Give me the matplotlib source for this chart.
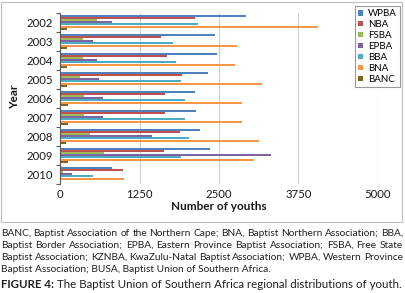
import numpy as np
import matplotlib
matplotlib.use("Agg")
import matplotlib.pyplot as plt
from matplotlib.patches import Rectangle, Patch

plt.rcParams['font.family'] = ['Lato', 'DejaVu Sans']

# data
years = ['2002', '2003', '2004', '2005', '2006', '2007', '2008', '2009', '2010']
series = ['WPBA', 'NBA', 'FSBA', 'EPBA', 'BBA', 'BNA', 'BANC']
colors = ['#4F81BD', '#C0504D', '#9BBB59', '#8064A2', '#4BACC6', '#F79646', '#7E6420']

wpba = [2920, 2432, 2474, 2321, 2127, 2137, 2195, 2358, 809]
nba = [2127, 1586, 1675, 1922, 1644, 1644, 1891, 1633, 987]
fsba = [572, 352, 352, 310, 378, 378, 473, 683, 47]
epba = [809, 515, 578, 615, 667, 667, 1444, 3319, 184]
bba = [2164, 1780, 1822, 1896, 1970, 1970, 2027, 1896, 520]
bna = [4065, 2778, 2752, 3172, 2868, 2868, 3125, 3046, 998]
banc = [100, 100, 100, 100, 121, 121, 84, 126, 0]

values = [wpba, nba, fsba, epba, bba, bna, banc]

note_lines = [
    "BANC, Baptist Association of the Northern Cape; BNA, Baptist Northern Association; BBA,",
    "Baptist Border Association; EPBA, Eastern Province Baptist Association; FSBA, Free State",
    "Baptist Association; KZNBA, KwaZulu-Natal Baptist Association; WPBA, Western Province",
    "Baptist Association; BUSA, Baptist Union of Southern Africa.",
]
fig_label = "FIGURE 4:"
fig_title = "The Baptist Union of Southern Africa regional distributions of youth."

W, H = 406, 293
fig = plt.figure(figsize=(W / 100, H / 100), dpi=100)

# chart frame
fig.patches.append(Rectangle((1 / W, 1 - 222 / H), 401 / W, 220.5 / H,
                             transform=fig.transFigure, fill=False,
                             edgecolor='#BFBFBF', linewidth=0.8))

ax = fig.add_axes([60.3 / W, 1 - 183.7 / H, 317.4 / W, 171 / H])

y = np.arange(len(years))
group = 0.8
bh = group / len(series)
for i, (name, vals) in enumerate(zip(series, values)):
    off = -group / 2 + bh * (i + 0.5)
    ax.barh(y + off, vals, height=bh * 0.95, color=colors[i], label=name,
            linewidth=0)

ax.set_xlim(0, 5000)
ax.set_xticks([0, 1250, 2500, 3750, 5000])
ax.set_ylim(len(years) - 0.5, -0.5)
ax.set_yticks(np.arange(len(years) + 1) - 0.5)
ax.set_yticklabels([])
ax.set_yticks(y, minor=True)
ax.set_yticklabels(years, minor=True)
ax.tick_params(axis='y', which='major', length=3, width=0.8, color='#595959')
ax.tick_params(axis='y', which='minor', length=0, pad=5, labelsize=8.2, labelcolor='#1a1a1a')
ax.tick_params(axis='x', length=0, pad=4, labelsize=8.2, labelcolor='#1a1a1a')
ax.grid(axis='x', color='#D0D0D0', linewidth=0.8)
ax.set_axisbelow(True)
for s in ['top', 'right', 'bottom']:
    ax.spines[s].set_visible(False)
ax.spines['left'].set_color('#595959')
ax.spines['left'].set_linewidth(0.8)

fig.text(219 / W, 1 - 207 / H, "Number of youths", ha='center', va='center',
         fontsize=8.5, fontweight='bold', color='#1a1a1a')
fig.text(15 / W, 1 - 97 / H, "Year", ha='center', va='center', rotation=90,
         fontsize=8.5, fontweight='bold', color='#1a1a1a')

handles = [Patch(facecolor=c, label=n) for n, c in zip(series, colors)]
leg = fig.legend(handles=handles, loc='upper left',
                 bbox_to_anchor=(355 / W, 1 - 6 / H), fontsize=7.0,
                 frameon=True, fancybox=False, edgecolor='#7F7F7F',
                 handlelength=0.45, handleheight=0.45, handletextpad=0.5,
                 labelspacing=0.2, borderpad=0.35, borderaxespad=0)
leg.get_frame().set_linewidth(0.8)

# caption below the chart, justified like the source page
renderer = fig.canvas.get_renderer()
left, right = 1.0, 403.0
cap_size = 7.3
line_y = [233.5, 245.5, 257.5, 269.5]


def width_of(t):
    return t.get_window_extent(renderer=renderer).width


for k, line in enumerate(note_lines):
    yy = 1 - line_y[k] / H
    if k == len(note_lines) - 1:
        fig.text(left / W, yy, line, ha='left', va='center', fontsize=cap_size, color='#231F20')
        continue
    words = line.split(' ')
    texts = [fig.text(0, yy, w_, ha='left', va='center', fontsize=cap_size, color='#231F20')
             for w_ in words]
    widths = [width_of(t) for t in texts]
    gap = (right - left - sum(widths)) / (len(words) - 1)
    x = left
    for t, w_ in zip(texts, widths):
        t.set_x(x / W)
        x += w_ + gap

yy = 1 - 285 / H
lab = fig.text(left / W, yy, fig_label, ha='left', va='center', fontsize=8.3,
               fontweight='bold', color='#231F20')
lw = width_of(lab)
fig.text((left + lw + 3) / W, yy, fig_title, ha='left', va='center', fontsize=8.3,
         color='#231F20')

fig.savefig("out.png", dpi=100)
